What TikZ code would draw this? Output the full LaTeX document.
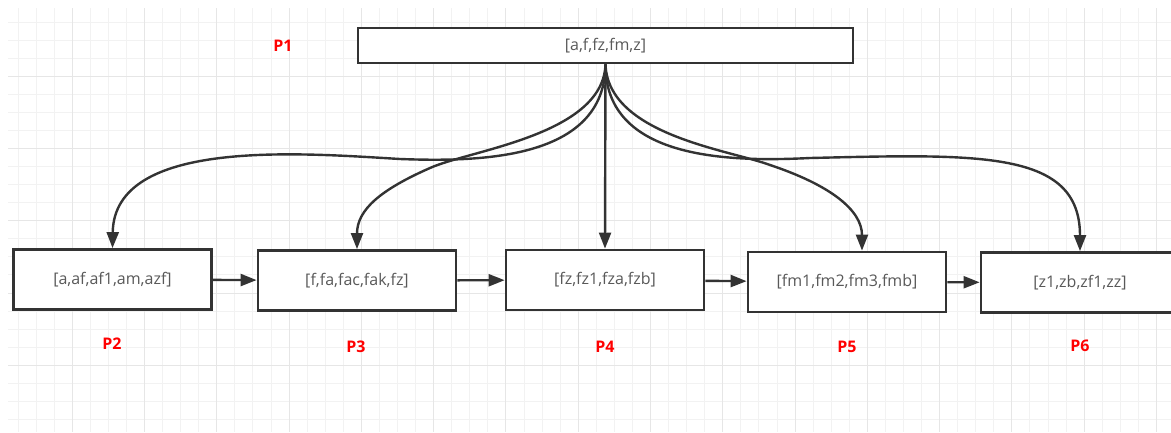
\documentclass[tikz,border=0pt]{standalone}
\usepackage{fontspec}
\setmainfont{Open Sans}
\usetikzlibrary{arrows.meta}
\definecolor{linegray}{HTML}{333333}
\definecolor{textgray}{HTML}{595959}
\definecolor{gridminor}{HTML}{F2F2F2}
\definecolor{gridmajor}{HTML}{E6E6E6}
\tikzset{
	listbox/.style={draw=linegray, line width=2.8pt, fill=white, text=textgray, minimum width=198pt, minimum height=60pt, inner sep=0pt, font=\fontsize{16}{19}\selectfont},
	plabel/.style={text=red, font=\fontsize{16}{19}\selectfont\bfseries},
	link/.style={draw=linegray, line width=2.4pt, -{Triangle[length=16pt,width=12pt]}},
}
\begin{document}
\begin{tikzpicture}[x=1pt,y=-1pt]
	\useasboundingbox (0,0) rectangle (1171,432);
	%% grid
	\foreach \i in {1,...,64} \draw[gridminor, line width=1pt] (\i*18.07,8) -- (\i*18.07,432);
	\foreach \j in {1,...,23} \draw[gridminor, line width=1pt] (8,4.2+\j*18.05) -- (1171,4.2+\j*18.05);
	\foreach \i in {1,...,16} \draw[gridmajor, line width=1pt] (\i*72.28,8) -- (\i*72.28,432);
	\foreach \j in {1,...,5} \draw[gridmajor, line width=1pt] (8,4.2+\j*72.2) -- (1171,4.2+\j*72.2);
	%% lists
	\node[listbox, minimum width=495pt, minimum height=35pt] (b1) at (605.5,45.5) {[a,f,fz,fm,z]};
	\node[listbox] (b2) at (112.5,279.5) {[a,af,af1,am,azf]};
	\node[listbox] (b3) at (357,280.5) {[f,fa,fac,fak,fz]};
	\node[listbox] (b4) at (605,280) {[fz,fz1,fza,fzb]};
	\node[listbox] (b5) at (847,282) {[fm1,fm2,fm3,fmb]};
	\node[listbox] (b6) at (1080,282.5) {[z1,zb,zf1,zz]};
	%% labels
	\node[plabel] (l1) at (283,46) {P1};
	\node[plabel] (l2) at (112,344) {P2};
	\node[plabel] (l3) at (356,347) {P3};
	\node[plabel] (l4) at (605,347) {P4};
	\node[plabel] (l5) at (847,347) {P5};
	\node[plabel] (l6) at (1080,346) {P6};
	%%% edges
	\draw[link] (b1.south) .. controls (605,160) and (480,162) .. (400,159) .. controls (300,153) and (114,138) .. (b2.north);
	\draw[link] (b1.south) .. controls (603,135) and (470,150) .. (430,168) .. controls (380,190) and (357,210) .. (b3.north);
	\draw[link] (b1.south) -- (b4.north);
	\draw[link] (b1.south) .. controls (608,135) and (730,150) .. (770,165) .. controls (830,185) and (862,210) .. ([xshift=15pt]b5.north);
	\draw[link] (b1.south) .. controls (605,160) and (730,162) .. (810,158) .. controls (980,154) and (1080,150) .. (b6.north);
	\draw[link] (b2) -- (b3);
	\draw[link] (b3) -- (b4);
	\draw[link] (b4) -- (b5);
	\draw[link] (b5) -- (b6);
\end{tikzpicture}
\end{document}
